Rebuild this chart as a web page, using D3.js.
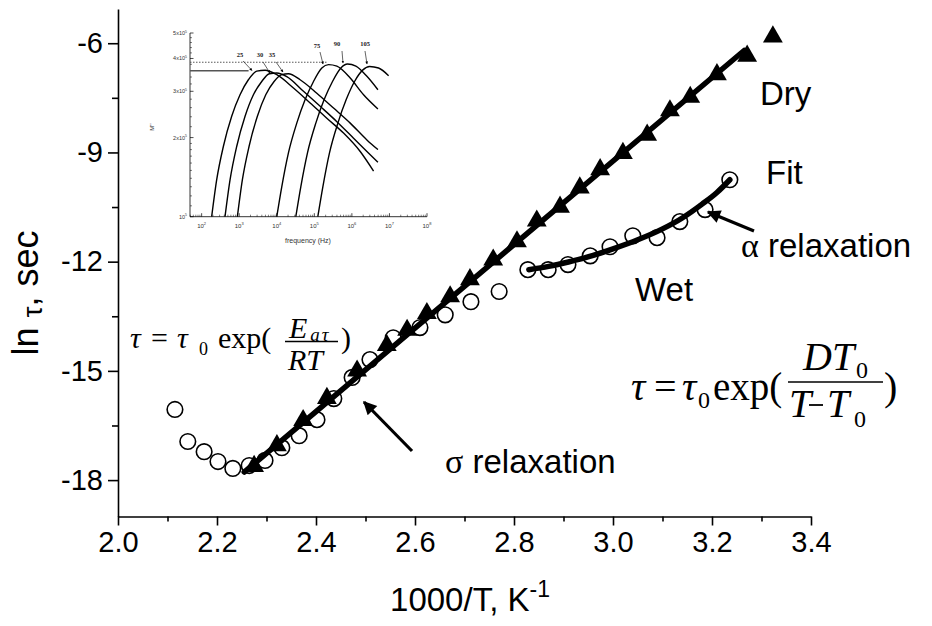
<!DOCTYPE html>
<html><head><meta charset="utf-8">
<script src="https://cdn.jsdelivr.net/npm/d3@7"></script>
<style>body{margin:0;background:#fff} svg{display:block}</style>
</head><body>
<svg id="c" width="932" height="626"></svg>
<script>
// ---------- main chart data ----------
const xTicks=[2.0,2.2,2.4,2.6,2.8,3.0,3.2,3.4];
const xMinor=[2.1,2.3,2.5,2.7,2.9,3.1,3.3];
const yTicks=[-18,-15,-12,-9,-6];
const yMinor=[-16.5,-13.5,-10.5,-7.5];
const dryX=[2.275,2.321,2.374,2.422,2.483,2.543,2.584,2.624,2.671,2.711,2.758,2.806,2.846,2.893,2.933,2.974,3.020,3.069,3.115,3.156,3.210,3.271,3.323];
const dryY=[-17.62,-17.05,-16.36,-15.75,-15.0,-14.3,-13.88,-13.42,-12.96,-12.49,-11.95,-11.45,-10.88,-10.5,-9.97,-9.47,-9.02,-8.52,-7.85,-7.48,-6.86,-6.35,-5.82];
const dryFitX=[2.255,3.265];
const dryFitY=[-17.78,-6.2];
const wetX=[2.115,2.141,2.174,2.202,2.232,2.265,2.297,2.331,2.366,2.402,2.436,2.473,2.509,2.556,2.610,2.661,2.713,2.770,2.828,2.869,2.909,2.954,2.994,3.040,3.089,3.135,3.186,3.236];
const wetY=[-16.06,-16.94,-17.22,-17.49,-17.68,-17.60,-17.46,-17.11,-16.78,-16.34,-15.76,-15.18,-14.69,-14.09,-13.81,-13.46,-13.10,-12.82,-12.22,-12.22,-12.08,-11.84,-11.59,-11.29,-11.34,-10.90,-10.57,-9.75];
const wetFitX=[2.83,2.87,2.91,2.96,3.0,3.05,3.1,3.14,3.18,3.21,3.236];
const wetFitY=[-12.22,-12.13,-12.01,-11.83,-11.65,-11.4,-11.1,-10.8,-10.42,-10.1,-9.75];

// ---------- inset data (log10 frequency, M'' in units of 10^5) ----------
const insetLabels=["25","30","35","75","90","105"];
const c25F=[2.267,2.40,2.578,2.80,3.022,3.244,3.467,3.69,4.0,4.444,4.889,5.333,5.778,6.222,6.578];
const c25M=[1.0,1.38,1.85,2.41,2.91,3.32,3.58,3.61,3.47,3.09,2.71,2.37,2.08,1.77,1.49];
const c30F=[2.622,2.756,2.933,3.156,3.378,3.6,3.804,4.0,4.267,4.711,5.156,5.6,6.044,6.4,6.693];
const c30M=[1.0,1.38,1.85,2.41,2.91,3.27,3.50,3.52,3.41,3.00,2.63,2.30,1.99,1.77,1.61];
const c35F=[2.951,3.084,3.262,3.484,3.707,3.929,4.133,4.311,4.622,5.067,5.511,5.956,6.4,6.693];
const c35M=[1.0,1.38,1.85,2.41,2.91,3.27,3.47,3.50,3.32,2.95,2.59,2.27,1.96,1.80];
const c75F=[4.0,4.133,4.311,4.533,4.756,4.978,5.2,5.378,5.6,5.956,6.311,6.693];
const c75M=[1.0,1.30,1.75,2.27,2.79,3.27,3.68,3.79,3.74,3.37,2.91,2.57];
const c90F=[4.507,4.64,4.818,5.04,5.262,5.484,5.707,5.884,6.107,6.4,6.693];
const c90M=[1.0,1.30,1.75,2.27,2.79,3.27,3.68,3.81,3.74,3.42,3.04];
const c105F=[5.093,5.227,5.404,5.627,5.849,6.071,6.293,6.471,6.711,6.978];
const c105M=[1.0,1.30,1.75,2.27,2.79,3.27,3.62,3.73,3.68,3.44];
const insetXTicks=[2,3,4,5,6,7,8];
const insetYTicks=[1,2,3,4,5];
const peak25=3.59, peak75=3.87;

const svg=d3.select("#c");
const SANS="'Liberation Sans', Arial, sans-serif";
const SERIF="'Liberation Serif', 'Times New Roman', serif";

// ---------- main scales ----------
const x=d3.scaleLinear().domain([2.0,3.4]).range([118,811]);
const y=d3.scaleLinear().domain([-19,-5.06]).range([516.5,9]);

// axes
const gx=svg.append("g").attr("transform","translate(0,516.5)")
  .call(d3.axisBottom(x).tickValues(xTicks).tickSize(9).tickSizeOuter(0).tickPadding(6).tickFormat(d=>d.toFixed(1)));
svg.append("g").attr("transform","translate(0,516.5)")
  .call(d3.axisBottom(x).tickValues(xMinor).tickSize(5).tickFormat("")).select(".domain").remove();
const gy=svg.append("g").attr("transform","translate(118,0)")
  .call(d3.axisLeft(y).tickValues(yTicks).tickSize(10).tickSizeOuter(0).tickPadding(5).tickFormat(d=>String(d)));
svg.append("g").attr("transform","translate(118,0)")
  .call(d3.axisLeft(y).tickValues(yMinor).tickSize(6).tickFormat("")).select(".domain").remove();
svg.selectAll(".tick line, .domain").attr("stroke","#000").attr("stroke-width",1.6);
gx.selectAll("text").attr("font-family",SANS).attr("font-size",29).attr("fill","#000");
gy.selectAll("text").attr("font-family",SANS).attr("font-size",29).attr("fill","#000");

// axis titles
svg.append("text").attr("transform","translate(38,293) rotate(-90)").attr("text-anchor","middle")
  .attr("font-family",SANS).attr("font-size",36)
  .html("ln <tspan font-size='28' dy='4'>τ</tspan><tspan dy='-4'>, sec</tspan>");
svg.append("text").attr("x",470).attr("y",611).attr("text-anchor","middle")
  .attr("font-family",SANS).attr("font-size",33)
  .html("1000/T, K<tspan font-size='23' dy='-14'>-1</tspan>");

// ---------- marks ----------
const wet=wetX.map((v,i)=>[v,wetY[i]]);
const dry=dryX.map((v,i)=>[v,dryY[i]]);
svg.append("g").selectAll("circle").data(wet).join("circle")
  .attr("cx",d=>x(d[0])).attr("cy",d=>y(d[1])).attr("r",7.8)
  .attr("fill","none").attr("stroke","#000").attr("stroke-width",1.6);
const tri=d3.symbol().type(d3.symbolTriangle).size(170);
svg.append("g").selectAll("path").data(dry).join("path")
  .attr("d",tri).attr("transform",d=>`translate(${x(d[0])},${y(d[1])})`).attr("fill","#000");
const line=d3.line().x(d=>x(d[0])).y(d=>y(d[1]));
svg.append("path").datum(dryFitX.map((v,i)=>[v,dryFitY[i]])).attr("d",line)
  .attr("fill","none").attr("stroke","#000").attr("stroke-width",5.5).attr("stroke-linecap","round");
svg.append("path").datum(wetFitX.map((v,i)=>[v,wetFitY[i]])).attr("d",line.curve(d3.curveMonotoneX))
  .attr("fill","none").attr("stroke","#000").attr("stroke-width",5.5).attr("stroke-linecap","round");

// ---------- annotations ----------
const ann=(t,xx,yy)=>svg.append("text").attr("x",xx).attr("y",yy).attr("font-family",SANS).attr("font-size",33).attr("fill","#000").html(t);
ann("Dry",760,105);
ann("Fit",766,184);
ann("<tspan font-family=\"'Liberation Serif'\" font-size='34'>α</tspan> relaxation",741,257);
ann("Wet",635,301);
ann("<tspan font-family=\"'Liberation Serif'\" font-size='34'>σ</tspan> relaxation",445,473);

// arrows
const defs=svg.append("defs");
defs.append("marker").attr("id","ah").attr("viewBox","0 0 10 10").attr("refX",9).attr("refY",5)
  .attr("markerWidth",5).attr("markerHeight",4.2).attr("orient","auto").attr("markerUnits","strokeWidth")
  .append("path").attr("d","M0,0L10,5L0,10z").attr("fill","#000");
defs.append("marker").attr("id","ahs").attr("viewBox","0 0 10 10").attr("refX",9).attr("refY",5)
  .attr("markerWidth",5).attr("markerHeight",4).attr("orient","auto").attr("markerUnits","strokeWidth")
  .append("path").attr("d","M0,0L10,5L0,10z").attr("fill","#000");
svg.append("line").attr("x1",412).attr("y1",451).attr("x2",364).attr("y2",402)
  .attr("stroke","#000").attr("stroke-width",3.2).attr("marker-end","url(#ah)");
svg.append("line").attr("x1",754).attr("y1",231).attr("x2",708).attr("y2",212)
  .attr("stroke","#000").attr("stroke-width",3.2).attr("marker-end","url(#ah)");

// formula 1
const f1=svg.append("g").attr("font-family",SERIF).attr("font-size",30).attr("fill","#000");
f1.append("text").attr("x",130).attr("y",348).attr("font-style","italic").text("τ");
f1.append("text").attr("x",151).attr("y",348).text("=");
f1.append("text").attr("x",177).attr("y",348).attr("font-style","italic").text("τ");
f1.append("text").attr("x",199).attr("y",355).attr("font-size",18).text("0");
f1.append("text").attr("x",218).attr("y",348).text("exp(");
f1.append("text").attr("x",289).attr("y",338).attr("font-style","italic").html("E<tspan font-size='19' dx='3' dy='3'>a</tspan><tspan font-size='19' dx='2'>τ</tspan>");
f1.append("line").attr("x1",285).attr("x2",338).attr("y1",341.5).attr("y2",341.5).attr("stroke","#000").attr("stroke-width",1.3);
f1.append("text").attr("x",288).attr("y",370).attr("font-style","italic").text("RT");
f1.append("text").attr("x",341).attr("y",348).text(")");

// formula 2
const f2=svg.append("g").attr("font-family",SERIF).attr("font-size",40).attr("fill","#000");
f2.append("text").attr("x",631).attr("y",400).attr("font-style","italic").text("τ");
f2.append("text").attr("x",654).attr("y",400).text("=");
f2.append("text").attr("x",682).attr("y",400).attr("font-style","italic").text("τ");
f2.append("text").attr("x",698).attr("y",408).attr("font-size",24).text("0");
f2.append("text").attr("x",713).attr("y",400).attr("font-size",39).text("exp(");
f2.append("text").attr("x",803).attr("y",370).attr("font-style","italic").text("DT");
f2.append("text").attr("x",856).attr("y",378).attr("font-size",24).text("0");
f2.append("line").attr("x1",788).attr("x2",883).attr("y1",382).attr("y2",382).attr("stroke","#000").attr("stroke-width",1.5);
f2.append("text").attr("x",789).attr("y",417).attr("font-style","italic").text("T");
f2.append("line").attr("x1",809).attr("x2",823).attr("y1",405).attr("y2",405).attr("stroke","#000").attr("stroke-width",1.8);
f2.append("text").attr("x",827).attr("y",417).attr("font-style","italic").text("T");
f2.append("text").attr("x",854).attr("y",427).attr("font-size",24).text("0");
f2.append("text").attr("x",884).attr("y",400).text(")");

// ---------- inset ----------
const ix=d3.scaleLinear().domain([1.69,8]).range([190,427]);
const iy=d3.scaleLog().domain([1,5]).range([216.7,33]);
const ins=svg.append("g");
ins.append("line").attr("x1",190).attr("x2",427).attr("y1",216.7).attr("y2",216.7).attr("stroke","#000").attr("stroke-width",0.8);
ins.append("line").attr("x1",190).attr("x2",190).attr("y1",33).attr("y2",216.7).attr("stroke","#000").attr("stroke-width",0.8);
// x ticks (log)
const ixMinor=[];
for(let e=1;e<8;e++) for(let k=2;k<10;k++){const v=e+Math.log10(k); if(v>=1.69&&v<=8) ixMinor.push(v);}
ins.selectAll(".ixm").data(ixMinor).join("line").attr("x1",d=>ix(d)).attr("x2",d=>ix(d)).attr("y1",216.7).attr("y2",214.7).attr("stroke","#000").attr("stroke-width",0.5);
ins.selectAll(".ixM").data(insetXTicks).join("line").attr("x1",d=>ix(d)).attr("x2",d=>ix(d)).attr("y1",216.7).attr("y2",213.2).attr("stroke","#000").attr("stroke-width",0.7);
ins.selectAll(".ixl").data(insetXTicks).join("text").attr("x",d=>ix(d)).attr("y",228).attr("text-anchor","middle")
  .attr("font-family",SANS).attr("font-size",6).attr("fill","#333").html(d=>`10<tspan font-size='4' dy='-3'>${d}</tspan>`);
ins.append("text").attr("x",308).attr("y",243).attr("text-anchor","middle").attr("font-family",SANS).attr("font-size",7).attr("fill","#333").text("frequency (Hz)");
// y ticks
const iyMinor=[1.1,1.2,1.3,1.4,1.5,1.6,1.7,1.8,1.9,2.2,2.4,2.6,2.8,3.2,3.4,3.6,3.8,4.2,4.4,4.6,4.8];
ins.selectAll(".iym").data(iyMinor).join("line").attr("x1",190).attr("x2",192).attr("y1",d=>iy(d)).attr("y2",d=>iy(d)).attr("stroke","#000").attr("stroke-width",0.5);
ins.selectAll(".iyM").data(insetYTicks).join("line").attr("x1",190).attr("x2",193.5).attr("y1",d=>iy(d)).attr("y2",d=>iy(d)).attr("stroke","#000").attr("stroke-width",0.7);
ins.selectAll(".iyl").data(insetYTicks).join("text").attr("x",187).attr("y",d=>iy(d)+2).attr("text-anchor","end")
  .attr("font-family",SANS).attr("font-size",5.5).attr("fill","#333").html(d=>(d===1?"":d+"x")+"10<tspan font-size='3.5' dy='-2.5'>5</tspan>");
ins.append("text").attr("transform","translate(154,127) rotate(-90)").attr("text-anchor","middle").attr("font-family",SANS).attr("font-size",6).attr("fill","#333").text("M''");
// reference lines
ins.append("line").attr("x1",190).attr("x2",ix(3.25)).attr("y1",iy(peak25)).attr("y2",iy(peak25)).attr("stroke","#555").attr("stroke-width",1.4);
ins.append("line").attr("x1",190).attr("x2",ix(5.35)).attr("y1",iy(peak75)).attr("y2",iy(peak75)).attr("stroke","#444").attr("stroke-width",0.9).attr("stroke-dasharray","1.5,1.5");
// curves
const curves=[[c25F,c25M],[c30F,c30M],[c35F,c35M],[c75F,c75M],[c90F,c90M],[c105F,c105M]];
const il=d3.line().x(d=>ix(d[0])).y(d=>iy(d[1])).curve(d3.curveMonotoneX);
curves.forEach(c=>{
  ins.append("path").datum(c[0].map((v,i)=>[v,c[1][i]])).attr("d",il).attr("fill","none").attr("stroke","#000").attr("stroke-width",1.4);
});
// peak labels and arrows
const labPos=[[240,57],[260,57],[272,57],[317,48],[337,46],[365,46]];
const arrTo=[[252,70.5],[270,73],[283,72],[323,64],[343,63],[367,64]];
const arrFrom=[[243,61],[263,62],[276,62],[320,52],[342,51],[365,51]];
insetLabels.forEach((t,i)=>{
  ins.append("text").attr("x",labPos[i][0]).attr("y",labPos[i][1]).attr("text-anchor","middle").attr("font-family",SERIF).attr("font-weight","bold").attr("font-size",6.5).attr("fill","#222").text(t);
  ins.append("line").attr("x1",arrFrom[i][0]).attr("y1",arrFrom[i][1]).attr("x2",arrTo[i][0]).attr("y2",arrTo[i][1]).attr("stroke","#222").attr("stroke-width",0.7).attr("marker-end","url(#ahs)");
});
</script>
</body></html>
